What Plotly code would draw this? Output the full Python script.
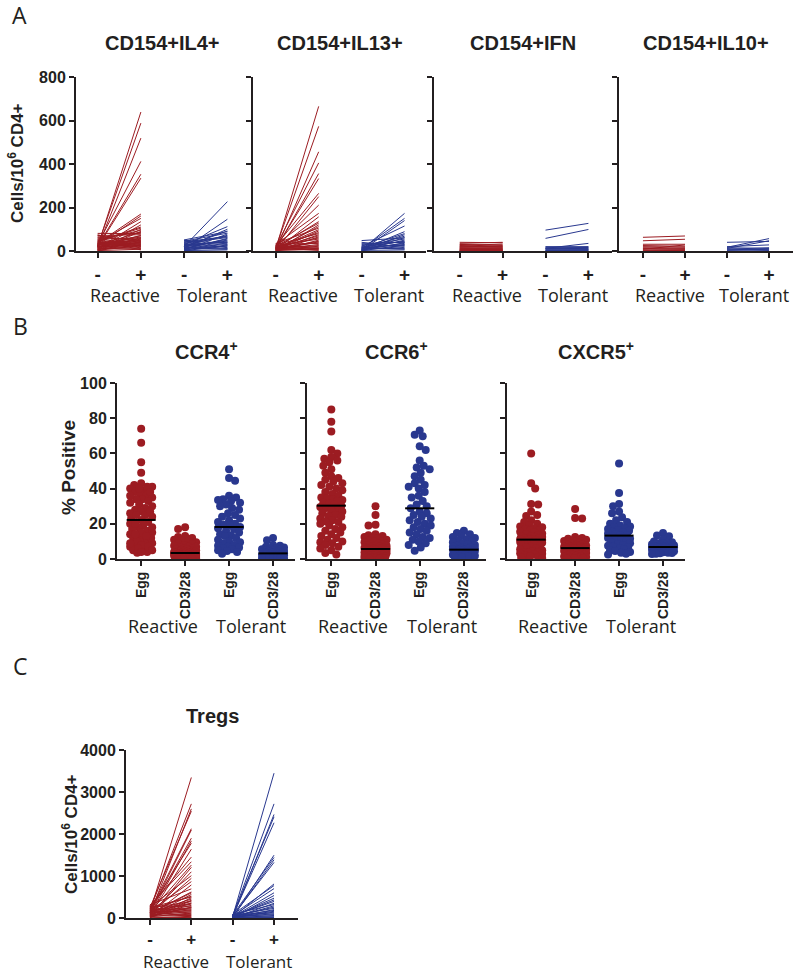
import numpy as np
import plotly.graph_objects as go

# ---------------- DATA ----------------
RED = "#9c1c22"
BLUE = "#29388f"
INK = "#231f20"

# Panel A: paired (unstimulated "-" vs stimulated "+") cells / 10^6 CD4+
IL4_R_pre = [20, 25, 15, 30, 22, 18, 35, 28, 40, 12, 10, 45, 8, 50, 5, 60, 81, 71, 30, 25,
             55, 20, 15, 65, 40, 35, 10, 5, 48, 38, 28, 18, 8, 3, 75, 60, 42, 33, 22, 12,
             2, 52, 44, 26, 16, 6, 0, 70, 36, 24]
IL4_R_post = [639, 588, 519, 412, 353, 335, 170, 161, 150, 135, 120, 110, 100, 95, 90, 85, 80, 75, 70, 65,
              60, 58, 55, 50, 48, 45, 42, 40, 38, 35, 32, 30, 28, 25, 22, 20, 18, 15, 12, 10,
              8, 5, 105, 88, 72, 62, 52, 43, 33, 24]
IL4_T_pre = [20, 10, 30, 15, 51, 45, 5, 25, 40, 35, 8, 12, 18, 22, 28, 3, 48, 38, 0, 6,
             14, 33, 50, 26, 10, 16, 2, 42, 20, 30]
IL4_T_post = [227, 146, 112, 100, 89, 82, 78, 72, 68, 62, 58, 55, 50, 46, 42, 38, 35, 30, 28, 25,
              22, 18, 15, 12, 10, 8, 5, 65, 92, 40]

IL13_R_pre = [10, 15, 5, 20, 8, 12, 25, 3, 18, 30, 6, 14, 22, 2, 9, 35, 11, 4, 16, 28,
              7, 13, 1, 19, 24, 0, 10, 5, 17, 32, 8, 12, 3, 21, 6, 15, 26, 2, 9, 14]
IL13_R_post = [665, 573, 456, 405, 356, 333, 265, 250, 211, 173, 157, 135, 128, 120, 112, 105, 98, 92, 85, 80,
               75, 70, 65, 60, 55, 50, 45, 42, 38, 35, 30, 25, 22, 18, 15, 12, 10, 8, 5, 3]
IL13_T_pre = [5, 10, 2, 20, 48, 35, 8, 15, 3, 12, 0, 25, 6, 18, 30, 4, 9, 14, 1, 22, 7, 40, 11, 16, 3]
IL13_T_post = [173, 150, 140, 115, 60, 40, 89, 80, 75, 68, 62, 55, 50, 45, 42, 38, 35, 30, 28, 25, 20, 15, 12, 8, 5]

IFN_R_pre = [40, 35, 30, 25, 22, 18, 15, 12, 10, 8, 6, 5, 4, 3, 2, 1, 0, 28, 20, 14]
IFN_R_post = [38, 40, 28, 32, 20, 25, 15, 10, 14, 6, 8, 4, 5, 2, 3, 1, 0, 22, 18, 12]
IFN_T_pre = [96, 58, 12, 20, 15, 10, 8, 5, 3, 2, 0, 18, 12]
IFN_T_post = [127, 99, 35, 18, 16, 12, 10, 6, 4, 1, 0, 20, 8]

IL10_R_pre = [63, 47, 31, 20, 8, 15, 10, 5, 3, 0, 12, 25]
IL10_R_post = [69, 54, 31, 18, 28, 12, 8, 6, 2, 1, 14, 22]
IL10_T_pre = [40, 17, 12, 20, 5, 10, 3, 0, 8, 15]
IL10_T_post = [44, 57, 47, 28, 10, 5, 8, 2, 15, 12]

# Panel C: Tregs
TREG_R_pre = [150, 200, 100, 250, 180, 120, 80, 220, 60, 300, 140, 40, 260, 90, 170, 30, 315, 110, 50, 200,
              20, 130, 70, 240, 10, 160, 90, 280, 40, 190, 120, 60, 230, 150, 80, 30, 210, 100, 50, 0,
              170, 20, 130, 270, 70, 110, 250, 15, 180, 45]
TREG_R_post = [3346, 2717, 2598, 2543, 2126, 2094, 1835, 1780, 1638, 1339, 1260, 1205, 1008, 945, 866, 787, 693, 598, 560, 520,
               480, 450, 420, 390, 360, 330, 300, 280, 260, 240, 220, 200, 180, 160, 140, 120, 100, 80, 60, 40,
               20, 10, 1900, 1450, 1100, 620, 500, 410, 350, 250]
TREG_T_pre = [30, 50, 20, 60, 40, 10, 70, 25, 45, 15, 80, 5, 35, 55, 0, 90, 12, 28, 65, 8,
              42, 18, 3, 75, 22, 38, 2, 48, 14, 6, 33, 26, 52]
TREG_T_post = [3448, 2717, 2465, 2409, 2268, 1496, 1441, 1386, 1323, 811, 772, 535, 472, 394, 350, 320, 290, 260, 230, 200,
               180, 160, 140, 120, 100, 80, 60, 40, 20, 10, 430, 600, 700]

# Panel B: % positive
CCR4_R_EGG = [74, 66, 55, 49, 43, 42, 41, 40, 39, 38, 37, 36, 35, 34, 34, 33, 32, 31, 30, 29, 28, 27, 26, 25, 24, 23,
              41, 40, 38, 36, 27, 25, 22.2,
              21, 20, 19, 18, 17, 16, 15, 14, 13, 12, 11, 10, 9, 8, 7, 6, 5, 4, 3.5,
              20, 18, 15, 12, 10, 8, 7, 6, 5, 4, 9, 13, 14]
CCR4_R_CD3 = [18, 17, 13, 12.5, 12, 11, 10.5, 10, 9.5, 9, 8.5, 8, 7.5, 7, 7, 6.5, 6, 6, 5.5, 5.5, 5, 5, 4.8, 4.6, 4.4,
              4.2, 4, 3.9, 3.8, 3.7, 3.6, 3.5, 3.4,
              3.3, 3.2, 3.1, 3, 2.9, 2.8, 2.7, 2.6, 2.5, 2.4, 2.3, 2.2, 2.1, 2, 1.9, 1.8, 1.7, 1.6, 1.5, 1.4, 1.3,
              1.2, 1.1, 1, 0.9, 0.8, 0.7, 0.6, 0.5, 0.4, 0.3, 0.2]
CCR4_T_EGG = [51, 46, 44.5, 36, 35, 34, 33.5, 33, 32, 31, 30, 29, 28, 26, 25, 24, 23, 22, 21, 20, 19.5, 19, 18.2,
              17.5, 17, 16, 15, 14, 13.5, 13, 12, 11, 10, 9.5, 9, 8, 7.5, 7, 6.5, 6, 5.5, 5, 4.5, 4, 3]
CCR4_T_CD3 = [12, 10.6, 8, 7.5, 7, 6.5, 6, 5.8, 5.5, 5.2, 5, 4.8, 4.6, 4.4, 4.2, 4, 3.9, 3.8, 3.6, 3.5, 3.4, 3.3, 3.2,
              3.1, 3, 2.9, 2.8, 2.7, 2.6, 2.5, 2.4, 2.3, 2.2, 2.1, 2, 1.8, 1.6, 1.4, 1.2, 1, 0.8, 0.6, 0.5, 0.4, 0.3]

CCR6_R_EGG = [85, 78, 72.5, 62, 60, 58, 57, 56, 55, 53, 51, 49, 47, 46, 45, 44, 43, 42, 41, 40, 39, 38, 37, 36, 35,
              34.5, 34, 33.5, 33, 32, 31.5, 31, 30.3,
              29.5, 29, 28, 27.5, 27, 26, 25, 24.5, 24, 23, 22, 21.5, 21, 20, 19, 18, 17, 16, 15, 14, 13, 12, 11, 10,
              9.5, 9, 8, 7, 6, 5, 3.4, 2.5]
CCR6_R_CD3 = [30, 25, 19.5, 19, 14, 13.5, 13, 12.5, 12, 11.5, 11, 10.5, 10, 9.8, 9.5, 9, 8.8, 8.5, 8.2, 8, 7.8, 7.5,
              7.2, 7, 6.8, 6.6, 6.4, 6.2, 6.1, 6, 5.9, 5.8, 5.7,
              5.6, 5.5, 5.4, 5.2, 5, 4.8, 4.6, 4.4, 4.2, 4, 3.8, 3.6, 3.4, 3.2, 3, 2.8, 2.6, 2.4, 2.2, 2, 1.8, 1.6,
              1.4, 1.2, 1, 0.9, 0.8, 0.6, 0.5, 0.4, 0.3, 0.2]
CCR6_T_EGG = [73, 70.6, 69.7, 64, 62, 56, 53, 52, 51, 49, 47, 45, 43, 42, 41, 40, 38, 36, 35, 33, 31, 30, 28.8,
              27, 26, 25, 24, 23, 22, 21, 20, 19, 18, 17, 16, 15, 14, 12.5, 12, 11, 10, 9, 8, 6.5, 4.7]
CCR6_T_CD3 = [16, 14.8, 14, 13, 12.5, 12, 11, 10.5, 10, 9.5, 9, 8.5, 8, 7.5, 7, 6.8, 6.5, 6.2, 6, 5.8, 5.6, 5.4, 5.3,
              5.2, 5, 4.8, 4.6, 4.4, 4.2, 4, 3.8, 3.6, 3.4, 3.2, 3, 2.8, 2.6, 2.4, 2.2, 2, 1.8, 1.6, 1.4, 1.2, 1]

CXCR5_R_EGG = [60, 43, 40, 31.2, 31, 27, 25, 24.5, 22, 21, 20, 19, 18.5, 18, 17.5, 17, 16.5, 16, 15.5, 15, 14.5, 14,
               13.5, 13, 12.8, 12.5, 12.2, 12, 11.8, 11.6, 11.4, 11.2, 11,
               10.8, 10.6, 10.4, 10.2, 10, 9.8, 9.6, 9.4, 9.2, 9, 8.8, 8.5, 8.2, 8, 7.5, 7, 6.5, 6, 5.5, 5, 4.5, 4,
               3.8, 3.5, 3.2, 3, 2.5, 2, 1.5, 1, 0.8, 0.5]
CXCR5_R_CD3 = [28.4, 23.3, 23, 12.5, 12, 11.5, 11, 10.8, 10.5, 10.2, 10, 9.8, 9.5, 9.2, 9, 8.8, 8.5, 8.2, 8, 7.8, 7.6,
               7.4, 7.2, 7, 6.9, 6.8, 6.7, 6.6, 6.5, 6.4, 6.3, 6.25, 6.2,
               6.1, 6, 5.9, 5.8, 5.6, 5.4, 5.2, 5, 4.8, 4.6, 4.4, 4.2, 4, 3.8, 3.6, 3.4, 3.2, 3, 2.8, 2.6, 2.4, 2.2,
               2, 1.8, 1.6, 1.4, 1.2, 1, 0.8, 0.6, 0.4, 0.3]
CXCR5_T_EGG = [54.2, 37.5, 31.3, 30, 27, 26, 23.7, 22, 21, 20, 19, 18.5, 18, 17.5, 17, 16.5, 16, 15.5, 15, 14.5, 14,
               13.6, 13.3, 13, 12.5, 12, 11.5, 11, 10.5, 10, 9.5, 9, 8.5, 8, 7.5, 7, 6.5, 6, 5.5, 5, 4.5, 4, 3.5, 3, 2.5]
CXCR5_T_CD3 = [14.8, 13.4, 12.9, 11, 10, 9.5, 9, 8.8, 8.6, 8.4, 8.2, 8, 7.8, 7.6, 7.4, 7.3, 7.2, 7.1, 7, 6.95, 6.9,
               6.85, 6.8, 6.7, 6.6, 6.5, 6.4, 6.2, 6, 5.8, 5.6, 5.4, 5.2, 5, 4.8, 4.6, 4.4, 4.2, 4, 3.8, 3.6, 3.4,
               3.2, 3, 2.8]

STIM_TICKS = ["-", "+", "-", "+"]
B_TICKS = ["Egg", "CD3/28", "Egg", "CD3/28"]
GROUPS = ["Reactive", "Tolerant"]
A_TITLES = ["CD154+IL4+", "CD154+IL13+", "CD154+IFN", "CD154+IL10+"]
B_TITLES = ["CCR4<sup>+</sup>", "CCR6<sup>+</sup>", "CXCR5<sup>+</sup>"]
C_TITLE = "Tregs"

# ---------------- LAYOUT HELPERS ----------------
W, H = 800, 975
def px_x(a, b):
    return [a / W, b / W]
def px_y(top, bottom):
    return [1 - bottom / H, 1 - top / H]

fig = go.Figure()
FONT = "Arial, Liberation Sans, sans-serif"
FONT2 = "Open Sans, Lato, sans-serif"

def ax_name(k, kind):
    return kind if k == 1 else f"{kind}{k}"

def add_pairs(k, pre, post, x0, x1, color):
    xs, ys = [], []
    for a, b in zip(pre, post):
        xs += [x0, x1, None]
        ys += [a, b, None]
    fig.add_trace(go.Scatter(x=xs, y=ys, mode="lines", line=dict(color=color, width=1),
                             xaxis=ax_name(k, "x"), yaxis=ax_name(k, "y"),
                             hoverinfo="skip", showlegend=False))

def swarm_offsets(vals, px_per_y, px_per_x, diam=8.0, max_half_px=11.0):
    vals = np.asarray(vals, float)
    order = np.argsort(vals, kind="stable")[::-1]
    placed = []
    offs = np.zeros(len(vals))
    for n, i in enumerate(order):
        y = vals[i] * px_per_y
        cand = [0.0]
        sgn = 1 if n % 2 == 0 else -1
        for m in range(1, int(max_half_px) + 1):
            cand += [sgn * m, -sgn * m]
        best, best_c, best_score = None, 0.0, -1.0
        for c in cand:
            md = min((np.hypot(c - px, y - py) for px, py in placed), default=1e9)
            if md >= diam * 0.8:
                best = c
                break
            if md > best_score:
                best_score, best_c = md, c
        if best is None:
            best = best_c
        offs[i] = best
        placed.append((best, y))
    return offs / px_per_x

def add_strip(k, vals, pos, color, px_per_y, px_per_x):
    off = swarm_offsets(vals, px_per_y, px_per_x)
    fig.add_trace(go.Scatter(x=pos + off, y=vals, mode="markers",
                             marker=dict(color=color, size=8, line=dict(width=0)),
                             xaxis=ax_name(k, "x"), yaxis=ax_name(k, "y"),
                             hoverinfo="skip", showlegend=False))
    med = float(np.median(vals))
    fig.add_trace(go.Scatter(x=[pos - 0.33, pos + 0.33], y=[med, med], mode="lines",
                             line=dict(color="black", width=2),
                             xaxis=ax_name(k, "x"), yaxis=ax_name(k, "y"),
                             hoverinfo="skip", showlegend=False))

def style_axes(k, xdom, ydom, xrange, yrange, ytickvals, show_ylabels, ticktext, tickangle=0, tickfont_size=19):
    common = dict(showline=True, linecolor=INK, linewidth=2, ticks="outside", ticklen=5,
                  tickwidth=1.5, tickcolor=INK, showgrid=False, zeroline=False, fixedrange=True,
                  automargin=False)
    fig.layout[ax_name(k, "xaxis")] = dict(common, domain=xdom, range=xrange, anchor=ax_name(k, "y"),
                                           tickmode="array", tickvals=list(range(len(ticktext))),
                                           ticktext=ticktext, tickangle=tickangle,
                                           tickfont=dict(family=FONT, size=tickfont_size, color=INK, weight="bold"))
    fig.layout[ax_name(k, "yaxis")] = dict(common, domain=ydom, range=yrange, anchor=ax_name(k, "x"),
                                           tickmode="array", tickvals=ytickvals,
                                           showticklabels=show_ylabels,
                                           tickfont=dict(family=FONT, size=16, color=INK, weight="bold"))

annotations = []
def text(x, y, s, size, weight="bold", family=FONT, xref="paper", yref="paper", angle=0):
    annotations.append(dict(x=x, y=y, xref=xref, yref=yref, text=s, showarrow=False,
                            textangle=angle, xanchor="center", yanchor="middle",
                            font=dict(family=family, size=size, color=INK, weight=weight)))

# ---------------- PANEL A ----------------
A_data = [(IL4_R_pre, IL4_R_post, IL4_T_pre, IL4_T_post),
          (IL13_R_pre, IL13_R_post, IL13_T_pre, IL13_T_post),
          (IFN_R_pre, IFN_R_post, IFN_T_pre, IFN_T_post),
          (IL10_R_pre, IL10_R_post, IL10_T_pre, IL10_T_post)]
A_xpx = [(76, 249), (253, 426), (434, 612), (619, 793)]
A_xr = [[-0.5, 3.5], [-0.53, 3.5], [-0.6, 3.55], [-0.57, 3.57]]
A_ydom = px_y(77, 251)
for j, (rp, rq, tp, tq) in enumerate(A_data):
    k = j + 1
    add_pairs(k, rp, rq, 0, 1, RED)
    add_pairs(k, tp, tq, 2, 3, BLUE)
    style_axes(k, px_x(*A_xpx[j]), A_ydom, A_xr[j], [0, 800], [0, 200, 400, 600, 800], j == 0, STIM_TICKS)
    cx = (A_xpx[j][0] + A_xpx[j][1]) / 2 / W
    text(cx, 1 - 43 / H, A_TITLES[j], 20)
    for g, gx in zip(GROUPS, [0.64, 2.64]):
        text(gx, 1 - 295 / H, g, 18, weight="normal", family=FONT2, xref=ax_name(k, "x"))
text(16 / W, 1 - 163 / H, "Cells/10<sup>6</sup> CD4+", 17, angle=-90)

# ---------------- PANEL B ----------------
B_data = [(CCR4_R_EGG, CCR4_R_CD3, CCR4_T_EGG, CCR4_T_CD3),
          (CCR6_R_EGG, CCR6_R_CD3, CCR6_T_EGG, CCR6_T_CD3),
          (CXCR5_R_EGG, CXCR5_R_CD3, CXCR5_T_EGG, CXCR5_T_CD3)]
B_xpx = [(117, 295), (307, 486), (507, 685)]
B_ydom = px_y(383, 559)
for j, groups in enumerate(B_data):
    k = 5 + j
    x0, x1 = B_xpx[j]
    xr = [-0.55, 3.5]
    ppx = (x1 - x0) / (xr[1] - xr[0])
    ppy = (559 - 383) / 100.0
    for pos, vals in enumerate(groups):
        add_strip(k, vals, pos, RED if pos < 2 else BLUE, ppy, ppx)
    style_axes(k, px_x(x0, x1), B_ydom, xr, [0, 100], [0, 20, 40, 60, 80, 100], j == 0, B_TICKS,
               tickangle=-90, tickfont_size=14)
    text((x0 + x1) / 2 / W, 1 - 350 / H, B_TITLES[j], 20)
    for g, gx in zip(GROUPS, [0.5, 2.5]):
        text(gx, 1 - 626 / H, g, 18, weight="normal", family=FONT2, xref=ax_name(k, "x"))
text(68 / W, 1 - 468 / H, "% Positive", 19, angle=-90)

# ---------------- PANEL C ----------------
k = 8
add_pairs(k, TREG_R_pre, TREG_R_post, 0, 1, RED)
add_pairs(k, TREG_T_pre, TREG_T_post, 2, 3, BLUE)
style_axes(k, px_x(126, 298), px_y(750, 918), [-0.58, 3.58], [0, 4000], [0, 1000, 2000, 3000, 4000], True,
           STIM_TICKS, tickfont_size=17)
text(212 / W, 1 - 716 / H, C_TITLE, 20)
for g, gx in zip(GROUPS, [0.64, 2.64]):
    text(gx, 1 - 961 / H, g, 17, weight="normal", family=FONT2, xref="x8")
text(70 / W, 1 - 834 / H, "Cells/10<sup>6</sup> CD4+", 17, angle=-90)

# panel letters
text(19 / W, 1 - 15 / H, "A", 23, weight="normal", family=FONT2)
text(20 / W, 1 - 326 / H, "B", 23, weight="normal", family=FONT2)
text(20 / W, 1 - 666 / H, "C", 23, weight="normal", family=FONT2)

fig.update_layout(width=W, height=H, margin=dict(l=0, r=0, t=0, b=0, autoexpand=False),
                  paper_bgcolor="white", plot_bgcolor="white", showlegend=False,
                  annotations=annotations)
fig.write_html("out.html", config={"displayModeBar": False},
               post_script="document.body.style.margin='0';document.body.style.padding='0';"
                           "document.documentElement.style.overflow='hidden';")
